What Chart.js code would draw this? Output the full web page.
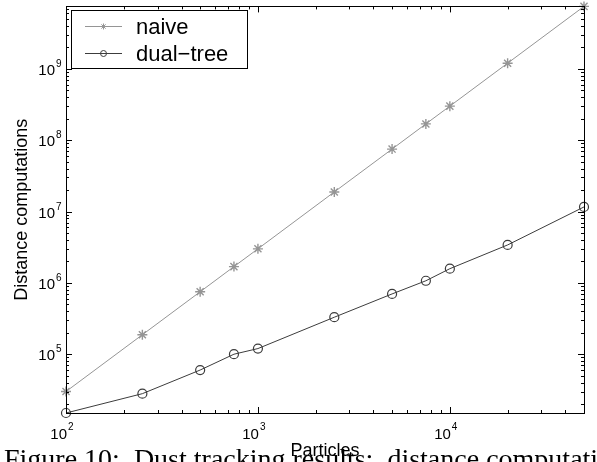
<!DOCTYPE html>
<html>
<head>
<meta charset="utf-8">
<script src="https://cdn.jsdelivr.net/npm/chart.js@4.4.1/dist/chart.umd.min.js"></script>
<style>
  body { margin: 0; background: #fff; }
  #wrap { width: 597px; height: 462px; overflow: hidden; }
</style>
</head>
<body>
<div id="wrap"><canvas id="distChart" width="597" height="462"></canvas></div>
<script>
const particles = [100, 250, 500, 750, 1000, 2500, 5000, 7500, 10000, 20000, 50000];
const naiveCounts = [30000, 187500, 750000, 1690000, 3000000, 18800000, 75000000, 169000000, 300000000, 1200000000, 7500000000];
const dualTreeCounts = [15000, 28000, 60000, 100000, 120000, 330000, 700000, 1070000, 1580000, 3400000, 11600000];
const xTickExponents = [2, 3, 4];
const yTickExponents = [5, 6, 7, 8, 9];
const seriesNames = ['naive', 'dual\u2212tree'];

const SANS = "'Liberation Sans', Arial, sans-serif";
const naiveColor = '#959595';
const dualColor = '#3c3c3c';

function toPoints(values) {
    return particles.map((p, i) => ({ x: p, y: values[i] }));
}

// ticks, labels, legend and titles in the matlab style
const axesPlugin = {
    id: 'axesPlugin',
    afterDraw(chart) {
        const ctx = chart.ctx;
        const a = chart.chartArea;
        const xs = chart.scales.x;
        const ys = chart.scales.y;
        ctx.save();
        ctx.strokeStyle = '#000';
        ctx.fillStyle = '#000';
        ctx.lineWidth = 1;

        // box
        ctx.strokeRect(Math.round(a.left) + 0.5, Math.round(a.top) + 0.5,
            Math.round(a.right - a.left), Math.round(a.bottom - a.top));

        // ticks on all four sides, pointing inward
        ctx.beginPath();
        for (let e = 1; e <= 5; e++) {
            for (let k = 1; k <= 9; k++) {
                const v = k * Math.pow(10, e);
                if (v < xs.min || v > xs.max) continue;
                const px = Math.round(xs.getPixelForValue(v)) + 0.5;
                const len = k === 1 ? 6 : 3;
                ctx.moveTo(px, a.bottom); ctx.lineTo(px, a.bottom - len);
                ctx.moveTo(px, a.top); ctx.lineTo(px, a.top + len);
            }
        }
        for (let e = 3; e <= 10; e++) {
            for (let k = 1; k <= 9; k++) {
                const v = k * Math.pow(10, e);
                if (v < ys.min || v > ys.max) continue;
                const py = Math.round(ys.getPixelForValue(v)) + 0.5;
                const len = k === 1 ? 6 : 3;
                ctx.moveTo(a.left, py); ctx.lineTo(a.left + len, py);
                ctx.moveTo(a.right, py); ctx.lineTo(a.right - len, py);
            }
        }
        ctx.stroke();

        // tick labels
        ctx.textBaseline = 'alphabetic';
        xTickExponents.forEach(e => {
            const px = xs.getPixelForValue(Math.pow(10, e));
            ctx.font = '15px ' + SANS;
            ctx.textAlign = 'right';
            ctx.fillText('10', px + 1, a.bottom + 26);
            ctx.font = '10px ' + SANS;
            ctx.textAlign = 'left';
            ctx.fillText(String(e), px + 2, a.bottom + 17);
        });
        yTickExponents.forEach(e => {
            const py = ys.getPixelForValue(Math.pow(10, e));
            ctx.font = '15px ' + SANS;
            ctx.textAlign = 'right';
            ctx.fillText('10', a.left - 11, py + 6);
            ctx.font = '10px ' + SANS;
            ctx.textAlign = 'left';
            ctx.fillText(String(e), a.left - 10, py - 2);
        });

        // axis titles
        ctx.font = '18px ' + SANS;
        ctx.textAlign = 'center';
        ctx.fillText('Particles', (a.left + a.right) / 2, 456);
        ctx.save();
        ctx.translate(27, (a.top + a.bottom) / 2);
        ctx.rotate(-Math.PI / 2);
        ctx.fillText('Distance computations', 0, 0);
        ctx.restore();

        // legend
        const lx = 71, ly = 10, lw = 176, lh = 58;
        ctx.fillStyle = '#fff';
        ctx.fillRect(lx, ly, lw, lh);
        ctx.strokeStyle = '#000';
        ctx.strokeRect(lx + 0.5, ly + 0.5, lw, lh);
        const rows = [26, 53];
        chart.data.datasets.forEach((ds, i) => {
            const y = rows[i] + 0.5;
            ctx.strokeStyle = ds.borderColor;
            ctx.fillStyle = ds.backgroundColor;
            ctx.beginPath();
            ctx.moveTo(85, y); ctx.lineTo(122, y);
            ctx.stroke();
            Chart.helpers.drawPoint(ctx, {
                pointStyle: ds.pointStyle, radius: 3, rotation: 0, borderWidth: 1
            }, 103.5, y);
            ctx.fillStyle = '#000';
            ctx.font = '22px ' + SANS;
            ctx.textAlign = 'left';
            ctx.fillText(ds.label, 136, rows[i] + 8);
        });

        // caption from the page, cut by the bottom edge
        ctx.fillStyle = '#000';
        ctx.font = "28px 'Liberation Serif', 'DejaVu Serif', serif";
        ctx.textAlign = 'left';
        ctx.fillText('Figure 10:  Dust tracking results:  distance computations', 4, 468);
        ctx.restore();
    }
};

new Chart(document.getElementById('distChart').getContext('2d'), {
    type: 'line',
    data: {
        datasets: [{
            label: seriesNames[0],
            data: toPoints(naiveCounts),
            borderColor: naiveColor,
            backgroundColor: naiveColor,
            pointStyle: 'star',
            pointRadius: 5,
            pointBorderWidth: 1.4,
            borderWidth: 1,
            clip: false
        }, {
            label: seriesNames[1],
            data: toPoints(dualTreeCounts),
            borderColor: dualColor,
            backgroundColor: 'rgba(0,0,0,0)',
            pointStyle: 'circle',
            pointRadius: 4.5,
            pointBorderWidth: 1.2,
            borderWidth: 1,
            clip: false
        }]
    },
    options: {
        responsive: false,
        animation: false,
        devicePixelRatio: 1,
        layout: { padding: { left: 66, right: 13, top: 4, bottom: 49 } },
        plugins: { legend: { display: false }, tooltip: { enabled: false } },
        scales: {
            x: {
                type: 'logarithmic',
                min: 100,
                max: 50000,
                ticks: { display: false },
                grid: { display: false, drawTicks: false },
                border: { display: false }
            },
            y: {
                type: 'logarithmic',
                min: 15000,
                max: 7500000000,
                ticks: { display: false },
                grid: { display: false, drawTicks: false },
                border: { display: false }
            }
        }
    },
    plugins: [axesPlugin]
});
</script>
</body>
</html>
